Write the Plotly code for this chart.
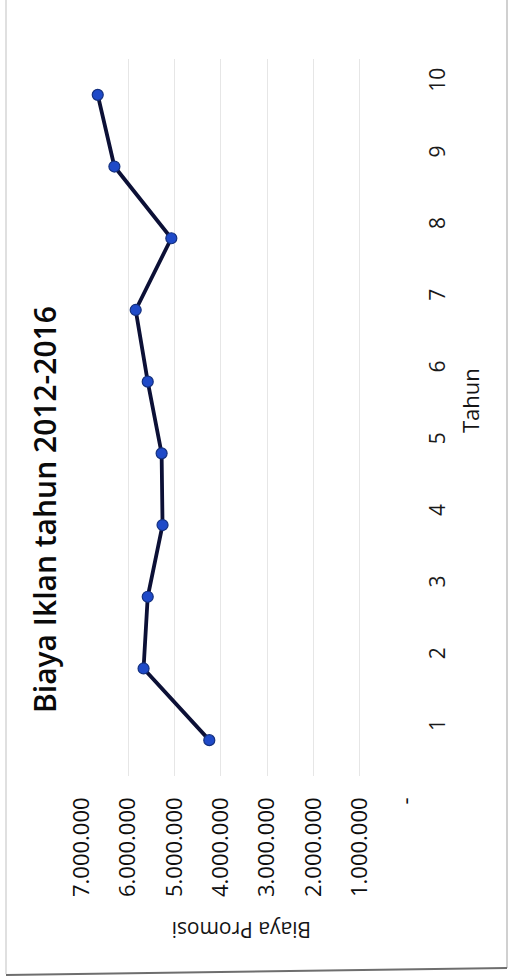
import plotly.graph_objects as go

# Advertising cost per year index (Rupiah)
tahun = [1, 2, 3, 4, 5, 6, 7, 8, 9, 10]
biaya = [4250000, 5670000, 5580000, 5260000, 5280000, 5580000, 5840000, 5070000, 6300000, 6660000]

value_ticks = [0, 1000000, 2000000, 3000000, 4000000, 5000000, 6000000, 7000000]
value_labels = ["-", "1.000.000", "2.000.000", "3.000.000", "4.000.000",
                "5.000.000", "6.000.000", "7.000.000"]
year_labels = [str(t) for t in tahun]

W, H = 510, 978
FONT = "Open Sans"


def px(x):
    return x / W


def py(y):
    return 1 - y / H


fig = go.Figure()

fig.add_trace(go.Scatter(
    x=biaya,
    y=tahun,
    mode="lines+markers",
    line=dict(color="#0c1036", width=3.8),
    marker=dict(size=11, color="#1f4ac8", line=dict(color="#14307f", width=1.2)),
    showlegend=False,
    hoverinfo="skip",
))

fig.update_layout(
    width=W,
    height=H,
    margin=dict(l=0, r=0, t=0, b=0),
    paper_bgcolor="white",
    plot_bgcolor="white",
    font=dict(family=FONT, color="#111111"),
    xaxis=dict(
        domain=[px(82), px(406)],
        range=[7000000, 0],
        tickvals=value_ticks,
        ticktext=value_labels,
        tickangle=-90,
        tickfont=dict(size=22, color="#0e0e0e", weight=500),
        showgrid=True,
        gridcolor="#e6e6e6",
        gridwidth=1,
        zeroline=False,
        showline=False,
        ticks="",
        ticklabelstandoff=16,
        automargin=False,
        fixedrange=True,
    ),
    yaxis=dict(
        domain=[py(776), py(59)],
        range=[0.5, 10.5],
        tickvals=tahun,
        ticktext=year_labels,
        side="right",
        tickangle=-90,
        tickfont=dict(size=21, color="#1a1a1a", weight=500),
        showgrid=False,
        zeroline=False,
        showline=False,
        ticks="",
        ticklabelstandoff=17,
        ticklabelshift=-12,
        automargin=False,
        fixedrange=True,
    ),
)

# Chart title and axis titles
fig.add_annotation(
    x=px(44), y=py(510), xref="paper", yref="paper",
    text="Biaya Iklan tahun 2012-2016", textangle=-90, showarrow=False,
    font=dict(family=FONT, size=30, color="#0a0a0a", weight=600),
    xanchor="center", yanchor="middle",
)
fig.add_annotation(
    x=px(470), y=py(401), xref="paper", yref="paper",
    text="Tahun", textangle=-90, showarrow=False,
    font=dict(family=FONT, size=22, color="#151515", weight=500),
    xanchor="center", yanchor="middle",
)
fig.add_annotation(
    x=px(242), y=py(930), xref="paper", yref="paper",
    text="Biaya Promosi", textangle=180, showarrow=False,
    font=dict(family=FONT, size=21, color="#151515", weight=500),
    xanchor="center", yanchor="middle",
)

# Chart border
fig.add_shape(type="line", xref="paper", yref="paper",
              x0=px(6), x1=px(6), y0=py(0), y1=py(974),
              line=dict(color="#d6d6d6", width=1.5))
fig.add_shape(type="line", xref="paper", yref="paper",
              x0=px(507), x1=px(507), y0=py(0), y1=py(968),
              line=dict(color="#c0c0c0", width=1.5))
fig.add_shape(type="line", xref="paper", yref="paper",
              x0=px(6), x1=px(507), y0=py(975), y1=py(968),
              line=dict(color="#6e6e6e", width=2))

fig.write_html("out.html")
